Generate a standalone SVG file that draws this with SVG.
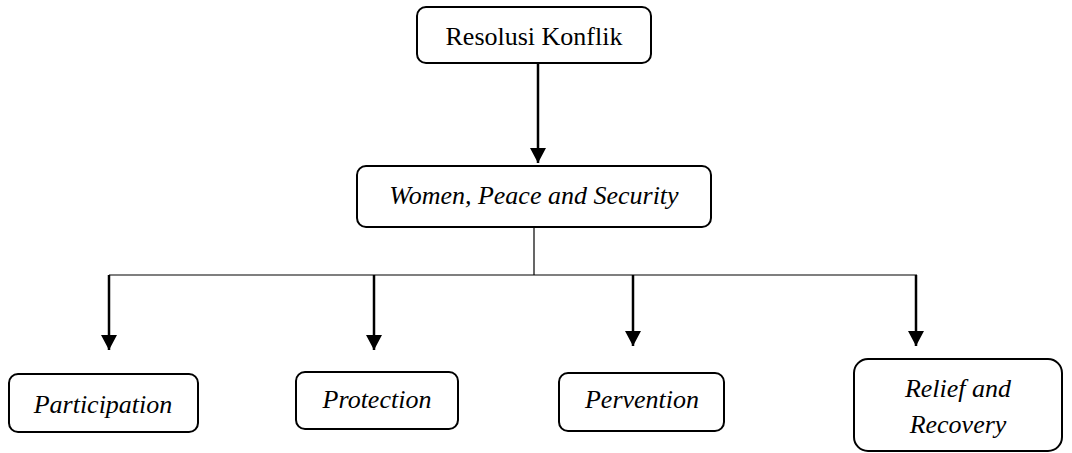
<svg xmlns="http://www.w3.org/2000/svg" width="1072" height="453" viewBox="0 0 1072 453">
<defs>
<style>
.box{fill:#fff;stroke:#000;stroke-width:2}
.t{font-family:"Liberation Serif","Times New Roman",serif;font-size:26px;fill:#000;text-anchor:middle}
.i{font-style:italic}
.arr{stroke:#000;stroke-width:2.5;fill:none}
.thin{stroke:#000;stroke-width:1.2;fill:none}
</style>
<marker id="ah" markerUnits="userSpaceOnUse" markerWidth="15" markerHeight="16" viewBox="0 0 15 16" refX="15" refY="8" orient="auto">
<path d="M0,0 L15,8 L0,16 z" fill="#000"/>
</marker>
</defs>
<g id="connectors">
<line class="arr" x1="538" y1="63" x2="538" y2="163" marker-end="url(#ah)"/>
<line class="thin" x1="534" y1="227" x2="534" y2="275"/>
<line class="thin" x1="109" y1="275" x2="917" y2="275"/>
<line class="arr" x1="109" y1="275" x2="109" y2="350" marker-end="url(#ah)"/>
<line class="arr" x1="374" y1="275" x2="374" y2="350" marker-end="url(#ah)"/>
<line class="arr" x1="633" y1="275" x2="633" y2="346" marker-end="url(#ah)"/>
<line class="arr" x1="916" y1="275" x2="916" y2="346" marker-end="url(#ah)"/>
</g>
<g id="resolusi">
<rect class="box" x="417" y="7" width="234" height="56" rx="9"/>
<text class="t" x="534" y="45">Resolusi Konflik</text>
</g>
<g id="wps">
<rect class="box" x="357" y="166" width="354" height="61" rx="9"/>
<text class="t i" x="534" y="204">Women, Peace and Security</text>
</g>
<g id="participation">
<rect class="box" x="9" y="374" width="189" height="58" rx="9"/>
<text class="t i" x="103" y="413">Participation</text>
</g>
<g id="protection">
<rect class="box" x="296" y="372" width="162" height="57" rx="9"/>
<text class="t i" x="377" y="408">Protection</text>
</g>
<g id="pervention">
<rect class="box" x="559" y="373" width="165" height="58" rx="9"/>
<text class="t i" x="642" y="408">Pervention</text>
</g>
<g id="relief">
<rect class="box" x="854" y="359" width="208" height="92" rx="14"/>
<text class="t i" x="958" y="397">Relief and</text>
<text class="t i" x="958" y="433">Recovery</text>
</g>
</svg>
